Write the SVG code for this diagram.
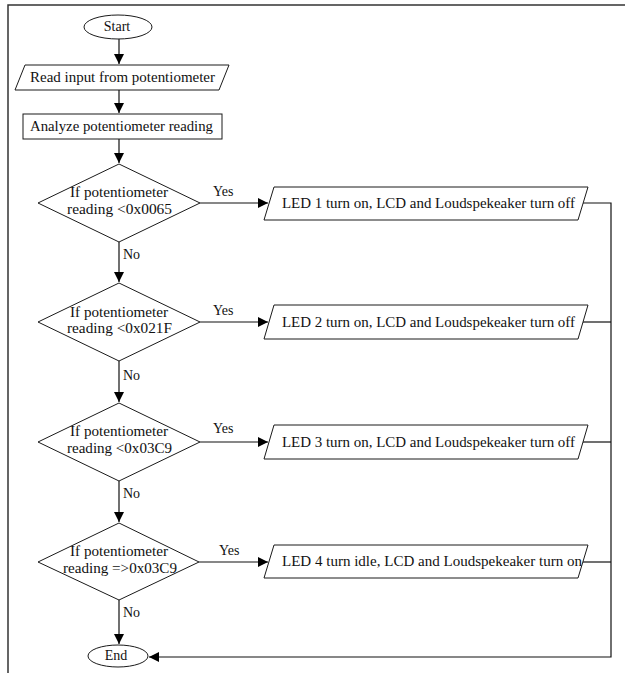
<svg xmlns="http://www.w3.org/2000/svg" width="625" height="673" viewBox="0 0 625 673">
<style>
.s{fill:#fff;stroke:#1a1a1a;stroke-width:1}
.t{font-family:"Liberation Serif","DejaVu Serif","Times New Roman",serif;font-size:14px;fill:#111}
.c{stroke:#111;stroke-width:1.2;fill:none}
.frame{stroke:#333;stroke-width:1.5;fill:none}
</style>
<defs>
<marker id="ah" markerUnits="userSpaceOnUse" markerWidth="10" markerHeight="10" viewBox="0 0 10 10" refX="10" refY="5" orient="auto">
<path d="M0,0 L10,5 L0,10 Z" fill="#000"/>
</marker>
</defs>
<rect width="625" height="673" fill="#fff"/>
<path class="frame" d="M8,673 V5 H625"/>

<g id="connectors">
<line class="c" x1="119" y1="39" x2="119" y2="64" marker-end="url(#ah)"/>
<line class="c" x1="119" y1="90" x2="119" y2="113" marker-end="url(#ah)"/>
<line class="c" x1="119" y1="139" x2="119" y2="163" marker-end="url(#ah)"/>
<line class="c" x1="200" y1="203" x2="268" y2="203" marker-end="url(#ah)"/>
<line class="c" x1="119" y1="242" x2="119" y2="282" marker-end="url(#ah)"/>
<line class="c" x1="200" y1="322" x2="268" y2="322" marker-end="url(#ah)"/>
<line class="c" x1="119" y1="361" x2="119" y2="402" marker-end="url(#ah)"/>
<line class="c" x1="200" y1="442" x2="268" y2="442" marker-end="url(#ah)"/>
<line class="c" x1="119" y1="481" x2="119" y2="522" marker-end="url(#ah)"/>
<line class="c" x1="199" y1="562" x2="268" y2="562" marker-end="url(#ah)"/>
<line class="c" x1="119" y1="600" x2="119" y2="644" marker-end="url(#ah)"/>
<path class="c" d="M583,203 H611 V657 H149" marker-end="url(#ah)"/>
<line class="c" x1="583" y1="322" x2="611" y2="322"/>
<line class="c" x1="583" y1="442" x2="611" y2="442"/>
<line class="c" x1="583" y1="562" x2="611" y2="562"/>
<text class="t" x="213" y="196">Yes</text>
<text class="t" x="123" y="259">No</text>
<text class="t" x="213" y="315">Yes</text>
<text class="t" x="123" y="380">No</text>
<text class="t" x="213" y="433">Yes</text>
<text class="t" x="123" y="498">No</text>
<text class="t" x="219" y="555">Yes</text>
<text class="t" x="123" y="617">No</text>
</g>

<g id="start">
<ellipse class="s" cx="118" cy="27" rx="34" ry="12"/>
<text class="t" x="117" y="31" text-anchor="middle">Start</text>
</g>

<g id="read">
<polygon class="s" points="25,65 229,65 219,90 15,90"/>
<text class="t" x="30" y="82" textLength="185" lengthAdjust="spacingAndGlyphs">Read input from potentiometer</text>
</g>

<g id="analyze">
<rect class="s" x="23" y="114" width="199" height="25"/>
<text class="t" x="30" y="131" textLength="183" lengthAdjust="spacingAndGlyphs">Analyze potentiometer reading</text>
</g>

<g id="d1">
<polygon class="s" points="119,164 200,203 119,242 38,203"/>
<text class="t" x="70" y="197" textLength="98" lengthAdjust="spacingAndGlyphs">If potentiometer</text>
<text class="t" x="67" y="214" textLength="105" lengthAdjust="spacingAndGlyphs">reading &lt;0x0065</text>
</g>

<g id="d2">
<polygon class="s" points="119,283 200,322 119,361 38,322"/>
<text class="t" x="70" y="317" textLength="98" lengthAdjust="spacingAndGlyphs">If potentiometer</text>
<text class="t" x="67" y="333" textLength="105" lengthAdjust="spacingAndGlyphs">reading &lt;0x021F</text>
</g>

<g id="d3">
<polygon class="s" points="119,403 200,442 119,481 38,442"/>
<text class="t" x="70" y="436" textLength="98" lengthAdjust="spacingAndGlyphs">If potentiometer</text>
<text class="t" x="67" y="453" textLength="105" lengthAdjust="spacingAndGlyphs">reading &lt;0x03C9</text>
</g>

<g id="d4">
<polygon class="s" points="119,523 199,562 119,600 38,562"/>
<text class="t" x="70" y="556" textLength="98" lengthAdjust="spacingAndGlyphs">If potentiometer</text>
<text class="t" x="63" y="573" textLength="114" lengthAdjust="spacingAndGlyphs">reading =&gt;0x03C9</text>
</g>

<g id="p1">
<polygon class="s" points="274,187 588,187 578,220 264,220"/>
<text class="t" x="282" y="208" textLength="293" lengthAdjust="spacingAndGlyphs">LED 1 turn on, LCD and Loudspekeaker turn off</text>
</g>

<g id="p2">
<polygon class="s" points="274,305 588,305 578,339 264,339"/>
<text class="t" x="282" y="327" textLength="293" lengthAdjust="spacingAndGlyphs">LED 2 turn on, LCD and Loudspekeaker turn off</text>
</g>

<g id="p3">
<polygon class="s" points="274,425 588,425 578,459 264,459"/>
<text class="t" x="282" y="447" textLength="293" lengthAdjust="spacingAndGlyphs">LED 3 turn on, LCD and Loudspekeaker turn off</text>
</g>

<g id="p4">
<polygon class="s" points="274,545 588,545 578,578 264,578"/>
<text class="t" x="282" y="566" textLength="300" lengthAdjust="spacingAndGlyphs">LED 4 turn idle, LCD  and Loudspekeaker turn on</text>
</g>

<g id="end">
<ellipse class="s" cx="118" cy="656" rx="30" ry="11"/>
<text class="t" x="116" y="660" text-anchor="middle">End</text>
</g>
</svg>
